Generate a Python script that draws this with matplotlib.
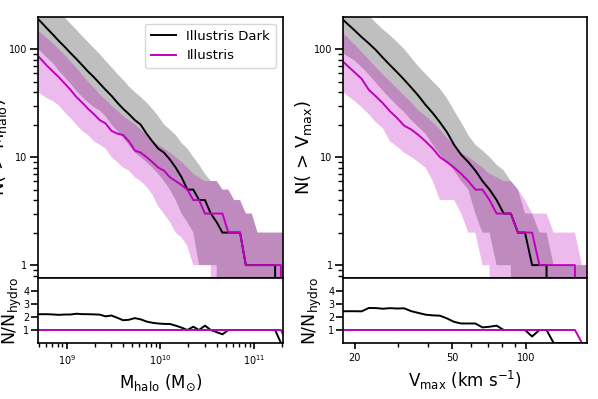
import matplotlib
matplotlib.use('Agg')
import matplotlib.pyplot as plt
from matplotlib.ticker import FixedLocator, FixedFormatter, NullFormatter, LogLocator
import numpy as np

# ---- left: cumulative counts vs halo mass (log10 Msun grid) ----
logm = [8.665, 8.728, 8.790, 8.853, 8.915, 8.978, 9.040, 9.103, 9.165, 9.228,
        9.290, 9.353, 9.415, 9.478, 9.540, 9.603, 9.665, 9.728, 9.790, 9.853,
        9.915, 9.978, 10.040, 10.103, 10.165, 10.228, 10.290, 10.353, 10.415, 10.478,
        10.540, 10.603, 10.665, 10.728, 10.790, 10.853, 10.915, 10.978, 11.040, 11.103,
        11.165, 11.228, 11.290, 11.353]

dark_m = [201, 177, 155, 136, 119, 105, 92, 81, 71, 62,
          55, 48, 42, 37, 32, 28, 25, 22, 20, 16.5,
          14, 12, 11, 9.5, 8, 6.5, 5, 5, 4, 4,
          3, 2.5, 2, 2, 2, 2, 1, 1, 1, 1,
          1, 1, 0, 0]
dark_m_lo = [105, 94, 83, 74, 63, 55, 48, 41, 36, 32,
             29, 27, 24, 20, 17.5, 15, 13, 11, 10, 9,
             8, 7, 6, 5, 4, 3, 2.5, 2, 1, 1,
             1, 1, 0, 0, 0, 0, 0, 0, 0, 0,
             0, 0, 0, 0]
dark_m_hi = [380, 330, 290, 255, 222, 196, 172, 151, 132, 116,
             102, 90, 78, 68, 59, 52, 45, 40, 36, 32,
             28, 24, 20, 18, 16, 13.5, 12, 10, 8.5, 7,
             6, 6, 5, 5, 4, 4, 3, 3, 2, 2,
             2, 2, 2, 2]
hydro_m = [91, 80, 70, 62, 55, 48, 42, 36, 32, 28,
           25, 22, 20.5, 17.5, 16.5, 16, 14, 11.5, 11, 10,
           9, 8, 7.5, 6.5, 6, 5.5, 5, 4, 4, 3,
           3, 3, 3, 2, 2, 2, 1, 1, 1, 1,
           1, 1, 1, 0]
hydro_m_lo = [42, 38, 35, 33, 30, 26, 23, 20, 17.5, 16,
              14, 13, 12, 10, 9, 8, 7.5, 6.5, 6, 5.3,
              4.5, 3.5, 3, 2.5, 2, 1.8, 1.5, 1, 1, 1,
              1, 0, 0, 0, 0, 0, 0, 0, 0, 0,
              0, 0, 0, 0]
hydro_m_hi = [155, 140, 126, 113, 100, 88, 77, 67, 58, 50,
              44, 38, 34, 30, 27, 24, 22, 20, 18, 16,
              14, 13, 12, 11, 10, 9, 8, 7, 6.5, 6,
              6, 6, 5, 5, 4, 4, 3, 3, 2, 2,
              2, 2, 2, 2]

# ---- right: cumulative counts vs Vmax (log10 km/s grid) ----
logv = [1.242, 1.271, 1.300, 1.329, 1.358, 1.387, 1.416, 1.445, 1.474, 1.503,
        1.532, 1.561, 1.590, 1.620, 1.649, 1.678, 1.707, 1.736, 1.765, 1.794,
        1.823, 1.852, 1.881, 1.910, 1.939, 1.968, 1.997, 2.026, 2.056, 2.085,
        2.114, 2.143, 2.172, 2.201, 2.230, 2.259]

dark_v = [197, 171, 149, 129, 113, 98, 83, 71, 61, 52,
          44, 37, 30.5, 25.5, 21, 17, 13, 10.5, 9, 7.5,
          6, 5, 4, 3, 3, 2, 2, 1, 1, 1,
          0, 0, 0, 0, 0, 0]
dark_v_lo = [95, 86, 78, 68, 58, 49, 41, 35, 30, 26,
             22, 19, 16.5, 13, 10.5, 9, 7.5, 6, 5, 3,
             2, 2, 1, 1, 1, 0, 0, 0, 0, 0,
             0, 0, 0, 0, 0, 0]
dark_v_hi = [330, 290, 260, 230, 205, 175, 152, 134, 116, 100,
             83, 69, 59, 50, 43, 35, 27, 21, 16, 13,
             11.5, 10, 8.5, 7.5, 6, 5, 3, 3, 2, 2,
             1, 1, 1, 1, 1, 1]
hydro_v = [81, 70, 61, 53, 42, 36.5, 31.5, 26.5, 23, 19.5,
           18, 16, 14, 12, 10, 9, 8, 7, 6, 5,
           5, 4, 3, 3, 3, 2, 2, 2, 1, 1,
           1, 1, 1, 1, 0, 0]
hydro_v_lo = [42, 37, 33, 29, 25, 21, 18.5, 14, 12.5, 11,
              10, 9, 8, 6, 4, 4, 4, 3, 2, 2,
              1, 1, 0, 0, 0, 0, 0, 0, 0, 0,
              0, 0, 0, 0, 0, 0]
hydro_v_hi = [150, 128, 110, 94, 80, 68, 58, 50, 43, 37,
              32, 27, 24, 21, 18, 15, 13, 11, 10, 9,
              8, 7, 6.5, 6, 6, 5, 4, 3, 3, 3,
              2, 2, 2, 2, 1, 1]

dark_color = 'k'
hydro_color = 'm'


def draw(ax, axr, x, dm, dlo, dhi, hm, hlo, hhi):
    x = 10 ** np.array(x)
    dm = np.array(dm, dtype=float)
    hm = np.array(hm, dtype=float)
    ax.fill_between(x, dlo, dhi, color='gray', alpha=0.5, lw=0)
    ax.fill_between(x, hlo, hhi, color=hydro_color, alpha=0.27, lw=0)
    ax.plot(x, dm, color=dark_color, lw=1.4, label='Illustris Dark')
    ax.plot(x, hm, color=hydro_color, lw=1.4, label='Illustris')

    # ratio to the hydro median, 0 where the hydro count is empty
    safe = np.where(hm > 0, hm, 1)
    r_dark = np.where(hm > 0, dm / safe, 0)
    r_hydro = np.where(hm > 0, hm / safe, 0)
    axr.plot(x, r_dark, color=dark_color, lw=1.4)
    axr.plot(x, r_hydro, color=hydro_color, lw=1.4)

    ax.set_xscale('log')
    ax.set_yscale('log')
    ax.set_ylim(0.76, 198)
    ax.yaxis.set_major_locator(FixedLocator([1, 10, 100]))
    ax.yaxis.set_major_formatter(FixedFormatter(['1', '10', '100']))
    ax.yaxis.set_minor_locator(LogLocator(subs=np.arange(2, 10)))
    ax.yaxis.set_minor_formatter(NullFormatter())
    ax.tick_params(axis='x', which='both', bottom=False, top=False, labelbottom=False)
    ax.tick_params(axis='y', which='major', direction='out', length=6, width=1.2, labelsize=7, pad=1.5)
    ax.tick_params(axis='y', which='minor', direction='out', length=3.5, width=1.0)

    axr.set_ylim(0, 5)
    axr.set_yticks([1, 2, 3, 4])
    axr.tick_params(axis='y', which='major', direction='out', length=4.8, width=1.2, labelsize=7, pad=1.5)
    axr.tick_params(axis='x', which='major', direction='out', length=4, width=1.2, labelsize=7)
    axr.tick_params(axis='x', which='minor', direction='out', length=3, width=1.0)

    for a in (ax, axr):
        for s in a.spines.values():
            s.set_linewidth(1.2)


fig = plt.figure(figsize=(5.98, 3.99), dpi=100)

axL = fig.add_axes([0.0635, 0.3033, 0.409, 0.6541])
axLr = fig.add_axes([0.0635, 0.1404, 0.409, 0.1629], sharex=axL)
axR = fig.add_axes([0.5736, 0.3033, 0.408, 0.6541])
axRr = fig.add_axes([0.5736, 0.1404, 0.408, 0.1629], sharex=axR)

draw(axL, axLr, logm, dark_m, dark_m_lo, dark_m_hi, hydro_m, hydro_m_lo, hydro_m_hi)
draw(axR, axRr, logv, dark_v, dark_v_lo, dark_v_hi, hydro_v, hydro_v_lo, hydro_v_hi)

axLr.set_xlim(4.93e8, 2.03e11)
axRr.set_xlim(17.9, 178)
axRr.xaxis.set_major_locator(FixedLocator([20, 50, 100]))
axRr.xaxis.set_major_formatter(FixedFormatter(['20', '50', '100']))
axRr.xaxis.set_minor_locator(FixedLocator([30, 40, 60, 70, 80, 90]))
axRr.xaxis.set_minor_formatter(NullFormatter())

axL.set_ylabel(r'N( > M$_{\rm halo}$)', fontsize=13, labelpad=0)
axR.set_ylabel(r'N( > V$_{\rm max}$)', fontsize=13, labelpad=0)
axLr.set_ylabel(r'N/N$_{\rm hydro}$', fontsize=12.5)
axRr.set_ylabel(r'N/N$_{\rm hydro}$', fontsize=12.5)
axLr.yaxis.set_label_coords(-0.058, 0.5)
axRr.yaxis.set_label_coords(-0.078, 0.5)
axLr.set_xlabel(r'M$_{\rm halo}$ (M$_{\odot}$)', fontsize=12)
axRr.set_xlabel(r'V$_{\rm max}$ (km s$^{-1}$)', fontsize=12)

axL.legend(loc='upper right', fontsize=9.5, handlelength=1.9, borderpad=0.45)

fig.savefig('out.png', dpi=100)
